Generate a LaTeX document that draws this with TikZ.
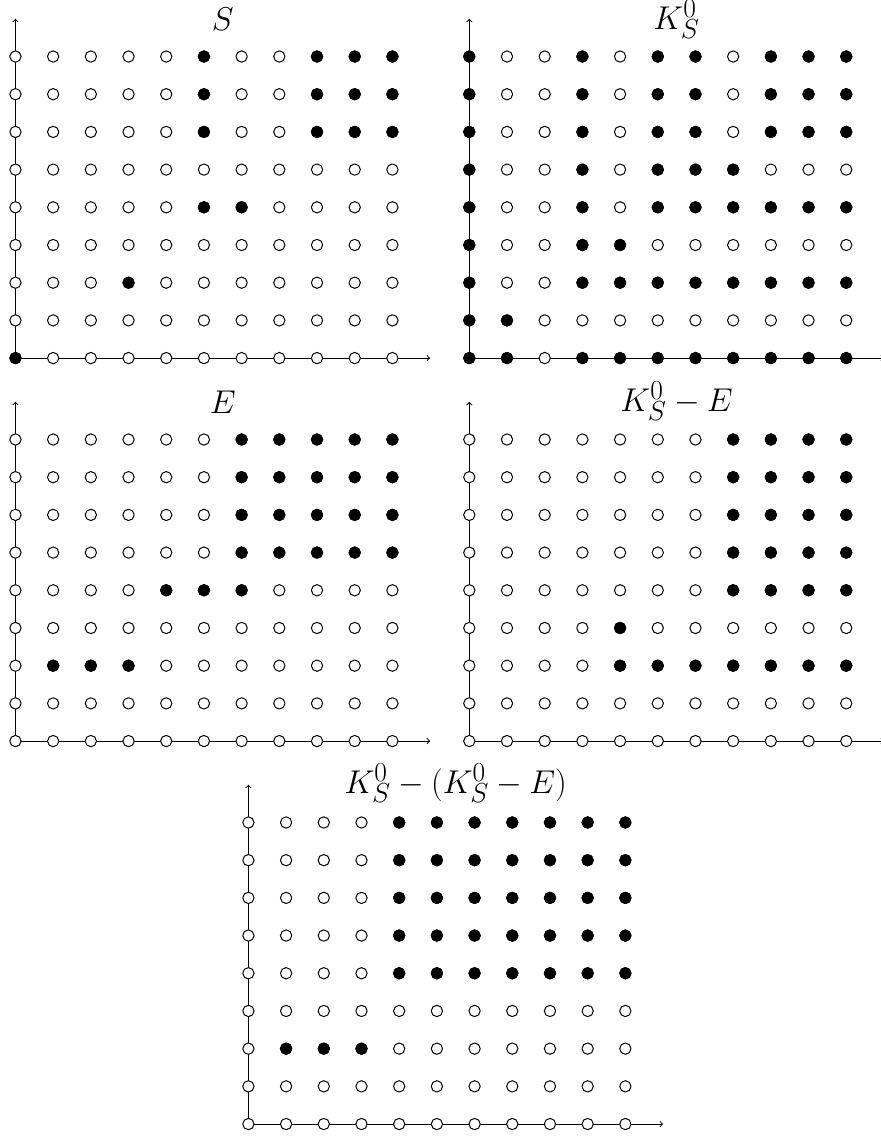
\documentclass[tikz,border=0pt]{standalone}
\usetikzlibrary{calc, positioning}

\begin{document}
\begin{tikzpicture}[line join=round, line cap=round,
  axisline/.style={line width=0.75pt, ->},
  latpt/.style={circle, draw=black, line width=0.75pt, fill=white, inner sep=0pt, minimum size=0.30cm},
  latfull/.style={latpt, fill=black},
  paneltitle/.style={font=\Huge, anchor=base, inner sep=0pt}]
\def\gridcols{10}
\def\gridrows{8}
\def\leftx{0.41}
\def\rightx{12.45}
\def\midx{6.59}
\def\topy{20.69}
\def\midy{10.53}
\def\boty{0.37}

% Page frame, cut at the right as in the source
\useasboundingbox (0,0) rectangle (23.37,30.19);

% Panel S
\begin{scope}[shift={(\leftx,\topy)}]
\coordinate (S-o) at (0,0);
\coordinate (S-x) at (11,0);
\coordinate (S-y) at (0,9);
\draw[axisline] (S-o) -- (S-x);
\draw[axisline] (S-o) -- (S-y);
\foreach \x in {0,...,\gridcols}
  \foreach \y in {0,...,\gridrows}
    \node[latpt] (S-\x-\y) at (\x,\y) {};
\foreach \y/\row in {8/{5,8,9,10}, 7/{5,8,9,10}, 6/{5,8,9,10}, 4/{5,6}, 2/{3}, 0/{0}}
  \foreach \x in \row
    \node[latfull] (S-\x-\y) at (\x,\y) {};
\node[paneltitle] (S-title) at (5.5,8.69) {$S$};
\end{scope}

% Panel K_S^0
\begin{scope}[shift={(\rightx,\topy)}]
\coordinate (K-o) at (0,0);
\coordinate (K-x) at (11,0);
\coordinate (K-y) at (0,9);
\draw[axisline] (K-o) -- (K-x);
\draw[axisline] (K-o) -- (K-y);
\foreach \x in {0,...,\gridcols}
  \foreach \y in {0,...,\gridrows}
    \node[latpt] (K-\x-\y) at (\x,\y) {};
\foreach \y/\row in {8/{0,3,5,6,8,9,10}, 7/{0,3,5,6,8,9,10}, 6/{0,3,5,6,8,9,10},
    5/{0,3,5,6,7}, 4/{0,3,5,6,7,8,9,10}, 3/{0,3,4}, 2/{0,3,4,5,6,7,8,9,10},
    1/{0,1}, 0/{0,1,3,4,5,6,7,8,9,10}}
  \foreach \x in \row
    \node[latfull] (K-\x-\y) at (\x,\y) {};
\node[paneltitle] (K-title) at (5.5,8.71) {$K_S^0$};
\end{scope}

% Panel E
\begin{scope}[shift={(\leftx,\midy)}]
\coordinate (E-o) at (0,0);
\coordinate (E-x) at (11,0);
\coordinate (E-y) at (0,9);
\draw[axisline] (E-o) -- (E-x);
\draw[axisline] (E-o) -- (E-y);
\foreach \x in {0,...,\gridcols}
  \foreach \y in {0,...,\gridrows}
    \node[latpt] (E-\x-\y) at (\x,\y) {};
\foreach \y/\row in {8/{6,...,10}, 7/{6,...,10}, 6/{6,...,10}, 5/{6,...,10}, 4/{4,5,6}, 2/{1,2,3}}
  \foreach \x in \row
    \node[latfull] (E-\x-\y) at (\x,\y) {};
\node[paneltitle] (E-title) at (5.5,8.69) {$E$};
\end{scope}

% Panel K_S^0 - E
\begin{scope}[shift={(\rightx,\midy)}]
\coordinate (KE-o) at (0,0);
\coordinate (KE-x) at (11,0);
\coordinate (KE-y) at (0,9);
\draw[axisline] (KE-o) -- (KE-x);
\draw[axisline] (KE-o) -- (KE-y);
\foreach \x in {0,...,\gridcols}
  \foreach \y in {0,...,\gridrows}
    \node[latpt] (KE-\x-\y) at (\x,\y) {};
\foreach \y/\row in {8/{7,...,10}, 7/{7,...,10}, 6/{7,...,10}, 5/{7,...,10}, 4/{7,...,10}, 3/{4}, 2/{4,...,10}}
  \foreach \x in \row
    \node[latfull] (KE-\x-\y) at (\x,\y) {};
\node[paneltitle] (KE-title) at (5.5,8.74) {$K_S^0-E$};
\end{scope}

% Panel K_S^0 - (K_S^0 - E)
\begin{scope}[shift={(\midx,\boty)}]
\coordinate (KKE-o) at (0,0);
\coordinate (KKE-x) at (11,0);
\coordinate (KKE-y) at (0,9);
\draw[axisline] (KKE-o) -- (KKE-x);
\draw[axisline] (KKE-o) -- (KKE-y);
\foreach \x in {0,...,\gridcols}
  \foreach \y in {0,...,\gridrows}
    \node[latpt] (KKE-\x-\y) at (\x,\y) {};
\foreach \y/\row in {8/{4,...,10}, 7/{4,...,10}, 6/{4,...,10}, 5/{4,...,10}, 4/{4,...,10}, 2/{1,2,3}}
  \foreach \x in \row
    \node[latfull] (KKE-\x-\y) at (\x,\y) {};
\node[paneltitle] (KKE-title) at (5.5,8.76) {$K_S^0-(K_S^0-E)$};
\end{scope}
\end{tikzpicture}
\end{document}
